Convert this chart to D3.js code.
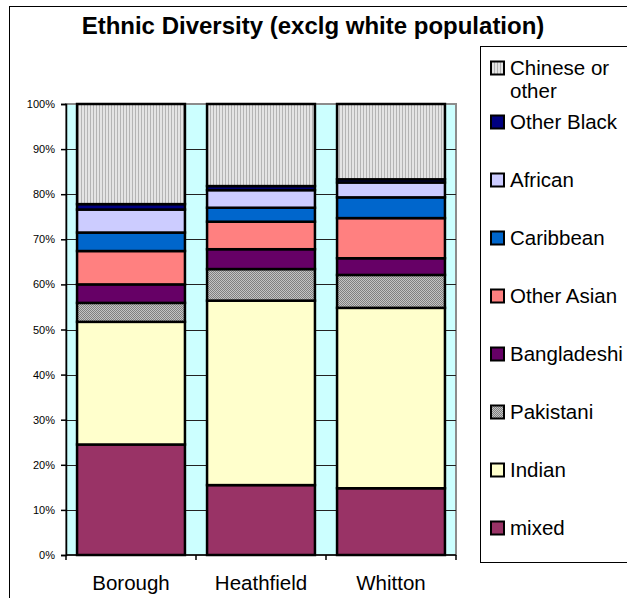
<!DOCTYPE html>
<html>
<head>
<meta charset="utf-8">
<script src="https://cdn.jsdelivr.net/npm/d3@7"></script>
<style>
  body { margin: 0; background: #fff; }
  svg { display: block; font-family: "Liberation Sans", Arial, sans-serif; }
</style>
</head>
<body>
<div id="vis"></div>
<script>
var categories = ["Borough", "Heathfield", "Whitton"];
// stacked bottom to top
var groups = ["mixed", "Indian", "Pakistani", "Bangladeshi", "Other Asian",
              "Caribbean", "African", "Other Black", "Chinese or other"];
var mixed      = [24.5, 15.5, 14.8];
var indian     = [27.2, 40.9, 40.0];
var pakistani  = [4.2, 7.0, 7.3];
var bangladeshi= [4.1, 4.4, 3.7];
var otherAsian = [7.4, 6.1, 8.9];
var caribbean  = [4.1, 3.1, 4.6];
var african    = [5.1, 3.9, 3.3];
var otherBlack = [1.2, 0.9, 0.7];
var chinese    = [22.2, 18.2, 16.7];
var yTicks = [0, 0.1, 0.2, 0.3, 0.4, 0.5, 0.6, 0.7, 0.8, 0.9, 1];

(function() {
  var series = [mixed, indian, pakistani, bangladeshi, otherAsian,
                caribbean, african, otherBlack, chinese];
  var colors = ["#993366", "#FFFFCC", "url(#pak)", "#660066", "#FF8080",
                "#0066CC", "#CCCCFF", "#000080", "url(#chi)"];

  var rows = categories.map(function(c, i) {
    var r = {cat: c};
    groups.forEach(function(g, j) { r[g] = series[j][i]; });
    return r;
  });

  var W = 627, H = 598;
  var svg = d3.select("#vis").append("svg").attr("width", W).attr("height", H);

  // fill patterns
  var defs = svg.append("defs");
  var chi = defs.append("pattern").attr("id", "chi").attr("patternUnits", "userSpaceOnUse")
    .attr("width", 3).attr("height", 3);
  chi.append("rect").attr("width", 3).attr("height", 3).attr("fill", "#e4e4e4");
  chi.append("rect").attr("x", 0).attr("width", 1).attr("height", 3).attr("fill", "#b4b4b4");
  var pak = defs.append("pattern").attr("id", "pak").attr("patternUnits", "userSpaceOnUse")
    .attr("width", 2).attr("height", 2);
  pak.append("rect").attr("width", 2).attr("height", 2).attr("fill", "#c4c4c4");
  pak.append("rect").attr("width", 1).attr("height", 1).attr("fill", "#808080");
  pak.append("rect").attr("x", 1).attr("y", 1).attr("width", 1).attr("height", 1).attr("fill", "#808080");

  // chart border
  svg.append("rect").attr("x", 9.5).attr("y", 6.5).attr("width", 640).attr("height", 640)
    .attr("fill", "none").attr("stroke", "#000").attr("stroke-width", 1);

  svg.append("text").attr("x", 313).attr("y", 34).attr("text-anchor", "middle")
    .attr("font-size", 24).attr("font-weight", "bold")
    .text("Ethnic Diversity (exclg white population)");

  var pLeft = 66, pRight = 456, pTop = 104, pBottom = 555;

  var x = d3.scaleBand().domain(categories).range([pLeft, pRight])
    .paddingInner(0.17).paddingOuter(0.085);
  var y = d3.scaleLinear().domain([0, 1]).range([pBottom, pTop]);

  // plot area
  svg.append("rect").attr("x", pLeft).attr("y", pTop).attr("width", pRight - pLeft)
    .attr("height", pBottom - pTop).attr("fill", "#CCFFFF")
    .attr("stroke", "#8c8c8c").attr("stroke-width", 2);

  svg.append("g").selectAll("line").data(yTicks.slice(1)).join("line")
    .attr("x1", pLeft).attr("x2", pRight)
    .attr("y1", function(d) { return Math.round(y(d)) + 0.5; })
    .attr("y2", function(d) { return Math.round(y(d)) + 0.5; })
    .attr("stroke", function(d) { return d === 1 ? "#8c8c8c" : "#222"; })
    .attr("stroke-width", 1);

  var stack = d3.stack().keys(groups).offset(d3.stackOffsetExpand);
  var layers = stack(rows);

  svg.append("g").selectAll("g").data(layers).join("g")
    .attr("fill", function(d, i) { return colors[i]; })
    .selectAll("rect").data(function(d) { return d; }).join("rect")
    .attr("x", function(d) { return x(d.data.cat); })
    .attr("y", function(d) { return y(d[1]); })
    .attr("width", x.bandwidth())
    .attr("height", function(d) { return y(d[0]) - y(d[1]); })
    .attr("stroke", "#000").attr("stroke-width", 2.5);

  // y axis
  var yAxis = svg.append("g").attr("transform", "translate(" + pLeft + ",0)")
    .call(d3.axisLeft(y).tickValues(yTicks).tickFormat(d3.format(".0%"))
      .tickSize(5).tickPadding(6));
  yAxis.selectAll("text").attr("font-size", 11).attr("fill", "#000")
    .attr("font-family", "Liberation Sans, Arial, sans-serif");
  yAxis.selectAll("line, path").attr("stroke", "#000").attr("stroke-width", 1.5);

  // x axis
  svg.append("line").attr("x1", pLeft).attr("x2", pRight).attr("y1", pBottom).attr("y2", pBottom)
    .attr("stroke", "#000").attr("stroke-width", 1.5);
  var bounds = categories.map(function(c) { return x(c) - x.step() * x.paddingInner() / 2; })
    .concat([pRight]);
  svg.append("g").selectAll("line").data(bounds).join("line")
    .attr("x1", function(d) { return d; }).attr("x2", function(d) { return d; })
    .attr("y1", pBottom).attr("y2", pBottom + 5)
    .attr("stroke", "#000").attr("stroke-width", 1.5);
  svg.append("g").selectAll("text").data(categories).join("text")
    .attr("x", function(d) { return x(d) + x.bandwidth() / 2; })
    .attr("y", 590).attr("text-anchor", "middle").attr("font-size", 20.5)
    .text(function(d) { return d; });

  // legend
  svg.append("rect").attr("x", 480.5).attr("y", 46.5).attr("width", 200).attr("height", 516)
    .attr("fill", "#fff").attr("stroke", "#000").attr("stroke-width", 1);

  var legendY = [68, 122, 180, 238, 296, 354, 412, 470, 528];
  var legendItems = groups.map(function(g, i) { return {name: g, fill: colors[i]}; }).reverse();
  var lg = svg.append("g").selectAll("g").data(legendItems).join("g")
    .attr("transform", function(d, i) { return "translate(491," + legendY[i] + ")"; });
  lg.append("rect").attr("x", 0).attr("y", -6.5).attr("width", 13).attr("height", 13)
    .attr("fill", function(d) { return d.fill; })
    .attr("stroke", "#000").attr("stroke-width", 2);
  lg.append("text").attr("x", 19).attr("font-size", 20.5)
    .each(function(d) {
      var t = d3.select(this);
      if (d.name === "Chinese or other") {
        t.append("tspan").attr("x", 19).attr("dy", "0.36em").text("Chinese or");
        t.append("tspan").attr("x", 19).attr("dy", "1.1em").text("other");
      } else {
        t.attr("dy", "0.36em").text(d.name);
      }
    });
})();
</script>
</body>
</html>
